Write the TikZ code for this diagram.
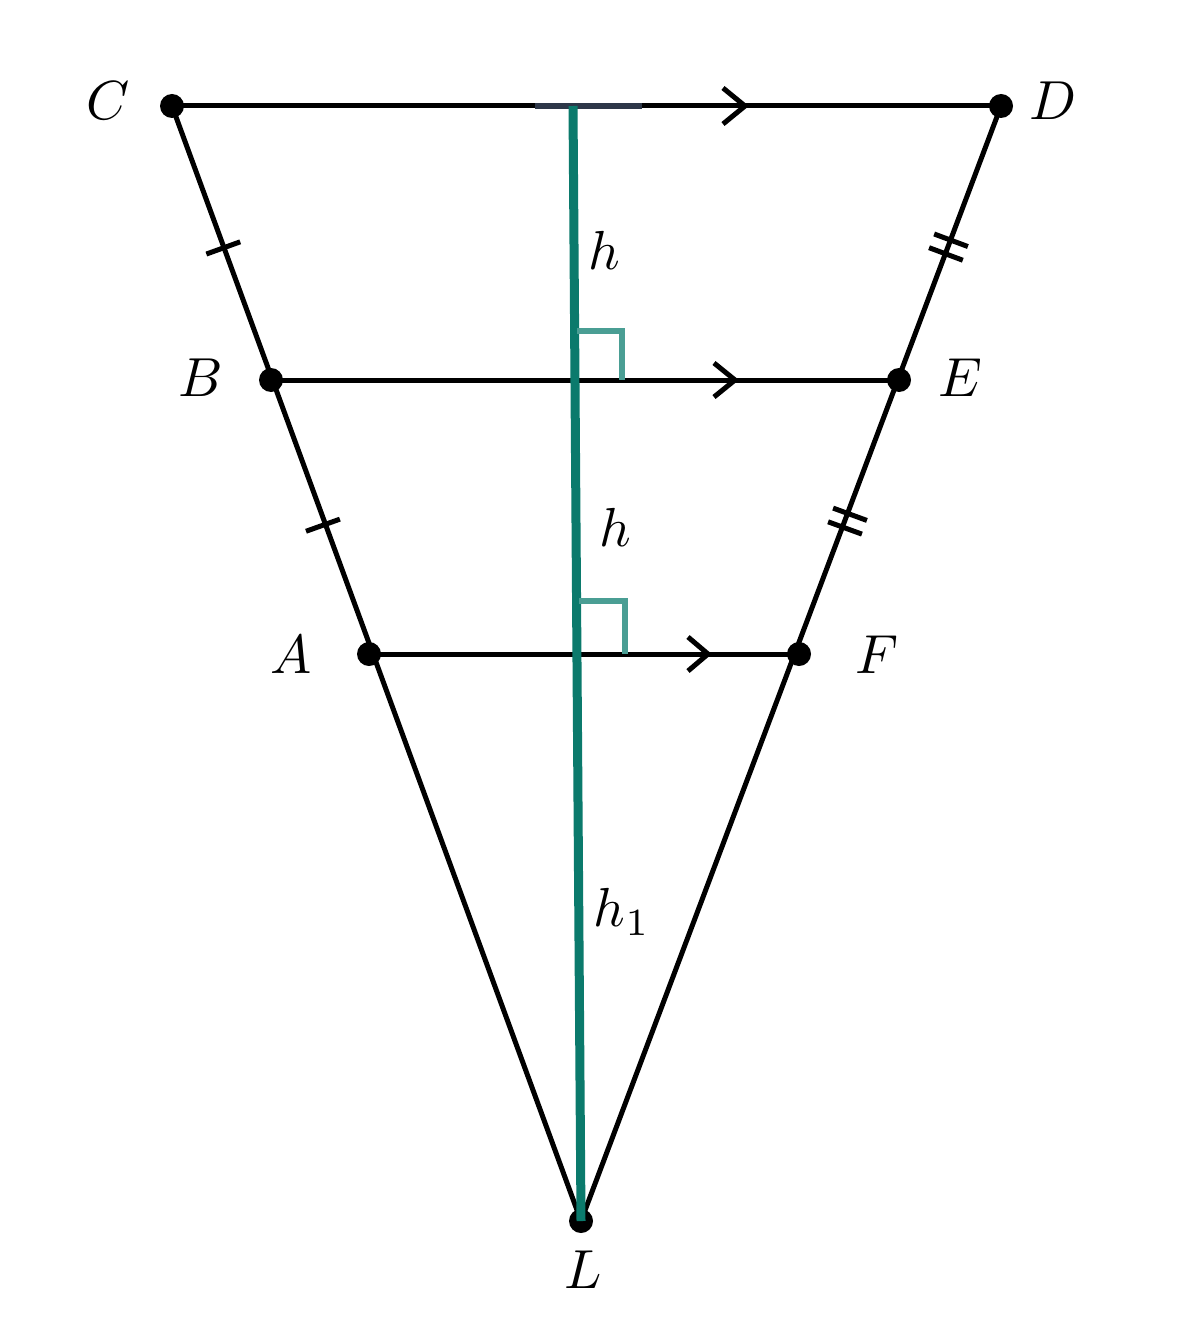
\documentclass[tikz,border=0pt]{standalone}
\usetikzlibrary{calc}
\definecolor{tealmain}{HTML}{0B7A6C}
\definecolor{teallight}{HTML}{4A9E94}
\definecolor{darkseg}{HTML}{2D3748}
\begin{document}
\begin{tikzpicture}[x=1pt,y=-1pt,
  seg/.style={line width=5pt,black},
  dot/.style={circle,fill=black,inner sep=0pt,minimum size=24pt},
  lbl/.style={scale=5.5},
  chev/.style={line width=5pt,black},
  tick/.style={line width=5pt,black},
  ra/.style={line width=5.5pt,teallight}]
\useasboundingbox (0,0) rectangle (1183,1329);
\coordinate (C) at (172,106);
\coordinate (D) at (1001,106);
\coordinate (B) at (271,380);
\coordinate (E) at (899,380);
\coordinate (A) at (369,654);
\coordinate (F) at (799,654);
\coordinate (L) at (581,1221);
\coordinate (T) at (573,106);
% sides
\draw[seg] (C) -- (D);
\draw[seg] (B) -- (E);
\draw[seg] (A) -- (F);
\draw[seg] (C) -- (L);
\draw[seg] (D) -- (L);
% chevrons
\coordinate (c1) at (745,106);
\coordinate (c2) at (735,380);
\coordinate (c3) at (708,654);
\draw[chev] ($(c1)+(-22,-18)$) -- (c1) -- ($(c1)+(-22,18)$);
\draw[chev] ($(c2)+(-21,-17)$) -- (c2) -- ($(c2)+(-21,17)$);
\draw[chev] ($(c3)+(-20,-17)$) -- (c3) -- ($(c3)+(-20,17)$);
% ticks
\coordinate (t1) at ($(C)!0.518!(B)$);
\coordinate (t2) at ($(B)!0.53!(A)$);
\draw[tick] ($(t1)!18pt!90:(B)$) -- ($(t1)!18pt!-90:(B)$);
\draw[tick] ($(t2)!18pt!90:(A)$) -- ($(t2)!18pt!-90:(A)$);
\coordinate (d1) at ($(D)!0.49!(E)$);
\coordinate (d2) at ($(D)!0.54!(E)$);
\draw[tick] ($(d1)!18pt!90:(E)$) -- ($(d1)!18pt!-90:(E)$);
\draw[tick] ($(d2)!18pt!90:(E)$) -- ($(d2)!18pt!-90:(E)$);
\coordinate (e1) at ($(E)!0.49!(F)$);
\coordinate (e2) at ($(E)!0.54!(F)$);
\draw[tick] ($(e1)!18pt!90:(F)$) -- ($(e1)!18pt!-90:(F)$);
\draw[tick] ($(e2)!18pt!90:(F)$) -- ($(e2)!18pt!-90:(F)$);
% dots
\node[dot] (nC) at (C) {};
\node[dot] (nD) at (D) {};
\node[dot] (nB) at (B) {};
\node[dot] (nE) at (E) {};
\node[dot] (nA) at (A) {};
\node[dot] (nF) at (F) {};
\node[dot] (nL) at (L) {};
% height
\draw[line width=6.5pt,darkseg] (535,106) -- (642,106);
\draw[line width=9pt,tealmain] (T) -- (L);
\draw[ra] (577,331) -- (622,331) -- (622,380);
\draw[ra] (579,601) -- (625,601) -- (625,654);
% labels
\node[lbl] (lC) at (108,101) {$C$};
\node[lbl] (lD) at (1053,101) {$D$};
\node[lbl] (lB) at (201,378) {$B$};
\node[lbl] (lE) at (960,378) {$E$};
\node[lbl] (lA) at (291,655) {$A$};
\node[lbl] (lF) at (877,655) {$F$};
\node[lbl] (lL) at (583,1270) {$L$};
\node[lbl] (h1) at (604,250) {$h$};
\node[lbl] (h2) at (615,527) {$h$};
\node[lbl] (h3) at (622,912) {$h_1$};
\end{tikzpicture}
\end{document}
